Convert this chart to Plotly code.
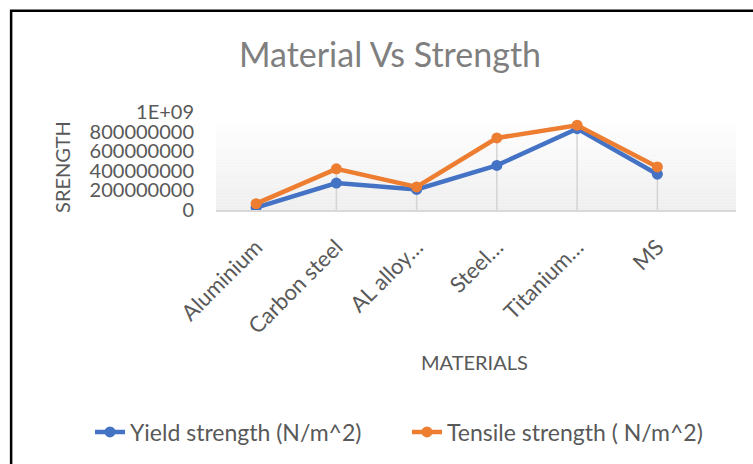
import plotly.graph_objects as go

# Materials and their strengths (N/m^2)
materials = ["Aluminium", "Carbon steel", "AL alloy…", "Steel…", "Titanium…", "MS"]
yield_strength = [25e6, 275e6, 210e6, 455e6, 830e6, 365e6]
tensile_strength = [65e6, 420e6, 235e6, 735e6, 865e6, 440e6]

y_tickvals = [0, 2e8, 4e8, 6e8, 8e8, 1e9]
y_ticktext = ["0", "200000000", "400000000", "600000000", "800000000", "1E+09"]

FONT = "Lato"
TXT = "#595959"
BLUE = "#4472C4"
ORANGE = "#ED7D31"

fig = go.Figure()

# drop lines from the axis up to the higher of the two series
drop_x, drop_y = [], []
for m, a, b in zip(materials, yield_strength, tensile_strength):
    drop_x += [m, m, None]
    drop_y += [0, max(a, b), None]
fig.add_trace(go.Scatter(x=drop_x, y=drop_y, mode="lines",
                         line=dict(color="#d4d4d4", width=1.5),
                         hoverinfo="skip", showlegend=False))

fig.add_trace(go.Scatter(x=materials, y=yield_strength, mode="lines+markers",
                         name="Yield strength (N/m^2)", legend="legend",
                         line=dict(color=BLUE, width=4.5),
                         marker=dict(color=BLUE, size=11)))
fig.add_trace(go.Scatter(x=materials, y=tensile_strength, mode="lines+markers",
                         name="Tensile strength ( N/m^2)", legend="legend2",
                         line=dict(color=ORANGE, width=4.5),
                         marker=dict(color=ORANGE, size=11)))

# soft vertical gradient behind the plot area
shapes = []
n = 30
top = 0.87
for i in range(n):
    t = i / (n - 1)
    v = int(round(0xEF + (0xFD - 0xEF) * t))
    col = f"rgb({v},{v},{v})"
    shapes.append(dict(type="rect", xref="paper", yref="paper",
                       x0=0, x1=1, y0=top * i / n, y1=top * (i + 1) / n,
                       fillcolor=col, line=dict(width=0), layer="below"))
# outer chart frame
shapes.append(dict(type="rect", xref="paper", yref="paper",
                   x0=-0.394, x1=1.06, y0=-2.75, y1=2.033,
                   line=dict(color="#000000", width=2.5),
                   fillcolor="rgba(0,0,0,0)", layer="above"))

legend_style = dict(orientation="h", xref="container", yref="container",
                    xanchor="left", y=1 - 432 / 464, yanchor="middle",
                    font=dict(family=FONT, size=23, color=TXT),
                    bgcolor="rgba(0,0,0,0)")

fig.update_layout(
    width=753, height=464,
    margin=dict(l=216, r=17, t=112, b=254),
    paper_bgcolor="white", plot_bgcolor="white",
    font=dict(family=FONT, color=TXT, size=20),
    title=dict(text="Material Vs Strength", x=390 / 753, xanchor="center",
               y=1 - 55 / 464, yanchor="middle",
               font=dict(family=FONT, size=34, color="#7f7f7f")),
    shapes=shapes,
    showlegend=True,
    legend=dict(x=90 / 753, **legend_style),
    legend2=dict(x=407 / 753, **legend_style),
    annotations=[
        dict(text="SRENGTH", textangle=-90, xref="paper", yref="paper",
             x=-0.296, y=0.44, xanchor="center", yanchor="middle", showarrow=False,
             font=dict(family=FONT, size=20, color=TXT)),
        dict(text="MATERIALS", xref="paper", yref="paper",
             x=0.498, y=-1.55, xanchor="center", yanchor="middle", showarrow=False,
             font=dict(family=FONT, size=20, color=TXT)),
    ],
)

fig.update_xaxes(type="category", categoryorder="array", categoryarray=materials,
                 range=[-0.5, 5.98], showgrid=False, zeroline=False,
                 showline=True, linecolor="#d9d9d9", linewidth=1.5,
                 ticks="", tickangle=-45, ticklabelstandoff=14,
                 tickfont=dict(family=FONT, size=22, color=TXT))
fig.update_yaxes(range=[0, 1e9], tickvals=y_tickvals, ticktext=y_ticktext,
                 showgrid=False, zeroline=False, showline=False, ticks="",
                 ticklabelstandoff=21,
                 tickfont=dict(family=FONT, size=20, color=TXT))

fig.write_html("out.html")
